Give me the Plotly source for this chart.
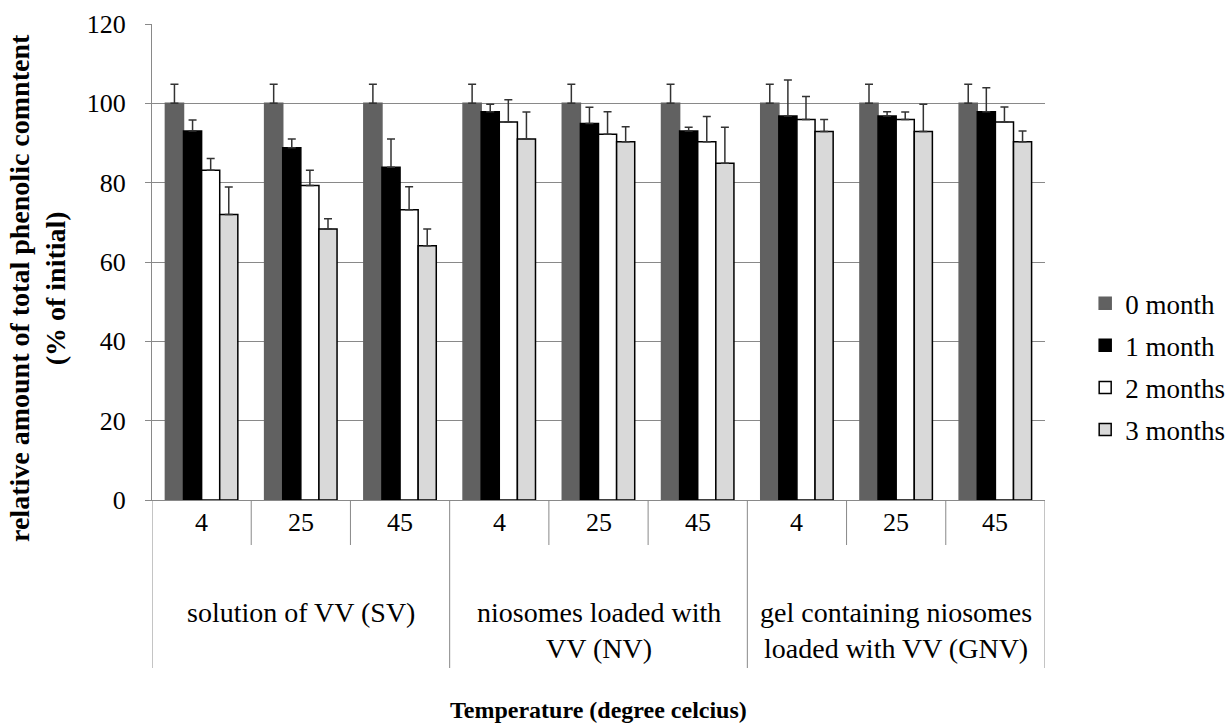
import plotly.graph_objects as go

groups = ["solution of VV (SV)", "niosomes loaded with<br>VV (NV)", "gel containing niosomes<br>loaded with VV (GNV)"]
temps = ["4", "25", "45"]
series_names = ["0 month", "1 month", "2 months", "3 months"]

m0 = [100, 100, 100, 100, 100, 100, 100, 100, 100]
e0 = [4.8, 4.8, 4.8, 4.8, 4.8, 4.8, 4.8, 4.8, 4.8]
m1 = [93.0, 88.8, 83.9, 97.9, 94.9, 93.0, 96.8, 96.8, 97.9]
e1 = [2.8, 2.2, 7.1, 1.9, 4.1, 1.0, 9.1, 1.1, 6.0]
m2 = [83.1, 79.3, 73.2, 95.3, 92.2, 90.3, 95.9, 95.9, 95.3]
e2 = [3.0, 3.8, 5.8, 5.6, 5.7, 6.4, 5.8, 1.9, 3.8]
m3 = [72.0, 68.3, 64.1, 91.0, 90.3, 84.9, 92.9, 92.9, 90.3]
e3 = [6.9, 2.6, 4.2, 6.8, 3.8, 9.1, 3.0, 6.9, 2.7]

values = [m0, m1, m2, m3]
errors = [e0, e1, e2, e3]
fills = ["#616161", "#000000", "#ffffff", "#d9d9d9"]
outlines = ["#616161", "#000000", "#000000", "#000000"]

FONT = "Liberation Serif, Times New Roman, Times, serif"
GRID = "#898989"

n_g, n_t = len(groups), len(temps)
xpos = list(range(n_g * n_t))
cat_labels = [t for _ in groups for t in temps]

fig = go.Figure()
for name, v, e, f, o in zip(series_names, values, errors, fills, outlines):
    fig.add_trace(go.Bar(
        x=xpos, y=v, name=name, legendgroup=name,
        marker=dict(color=f, line=dict(color=o, width=1.5)),
        error_y=dict(type="data", array=e, arrayminus=[0] * len(e), symmetric=False,
                     color="#333333", thickness=1.5, width=4),
    ))

# plot area geometry (px) for paper conversion
top_px, bot_px = 24, 500
ph = bot_px - top_px
def py(p):
    return (bot_px - p) / ph

shapes = []
# boundaries between temperature categories
for b in range(n_g * n_t + 1):
    xb = b - 0.5
    is_group = (b % n_t == 0)
    shapes.append(dict(type="line", xref="x", yref="paper", x0=xb, x1=xb,
                       y0=0, y1=py(668 if is_group else 545),
                       line=dict(color=GRID, width=1)))

annotations = []
for i, lab in enumerate(cat_labels):
    annotations.append(dict(x=i, y=py(522), xref="x", yref="paper", text=lab,
                            showarrow=False, xanchor="center", yanchor="middle",
                            font=dict(family=FONT, size=26)))
for gi, g in enumerate(groups):
    annotations.append(dict(x=gi * n_t + (n_t - 1) / 2, y=py(595), xref="x", yref="paper",
                            text=g, showarrow=False, xanchor="center", yanchor="top",
                            align="center", font=dict(family=FONT, size=28)))
annotations.append(dict(x=0.5, y=py(710), xref="paper", yref="paper",
                        text="<b>Temperature (degree celcius)</b>", showarrow=False,
                        xanchor="center", yanchor="middle", font=dict(family=FONT, size=24)))
annotations.append(dict(x=(37 - 152) / 893, y=py(288), xref="paper", yref="paper",
                        text="<b>relative amount of total phenolic comntent<br>(% of initial)</b>",
                        showarrow=False, textangle=-90, xanchor="center", yanchor="middle",
                        font=dict(family=FONT, size=28)))

fig.update_layout(
    width=1227, height=724,
    margin=dict(l=152, r=182, t=top_px, b=724 - bot_px, autoexpand=False),
    paper_bgcolor="white", plot_bgcolor="white",
    barmode="group", bargap=0.27, bargroupgap=0,
    font=dict(family=FONT, size=26, color="#000000"),
    showlegend=True,
    legend=dict(x=1.045, y=0.28, xanchor="left", yanchor="middle",
                tracegroupgap=4, font=dict(family=FONT, size=27),
                bgcolor="rgba(0,0,0,0)"),
    shapes=shapes, annotations=annotations,
)
fig.update_yaxes(
    range=[0, 120], dtick=20, showgrid=True, gridcolor=GRID, gridwidth=1,
    showline=True, linecolor=GRID, linewidth=1, zeroline=False,
    ticks="outside", ticklen=6, tickcolor=GRID, ticklabelstandoff=14,
    tickfont=dict(family=FONT, size=26),
)
fig.update_xaxes(
    range=[-0.5, n_g * n_t - 0.5], showline=True, linecolor=GRID, linewidth=1,
    showticklabels=False, ticks="", showgrid=False, zeroline=False,
)

fig.write_html("out.html")
